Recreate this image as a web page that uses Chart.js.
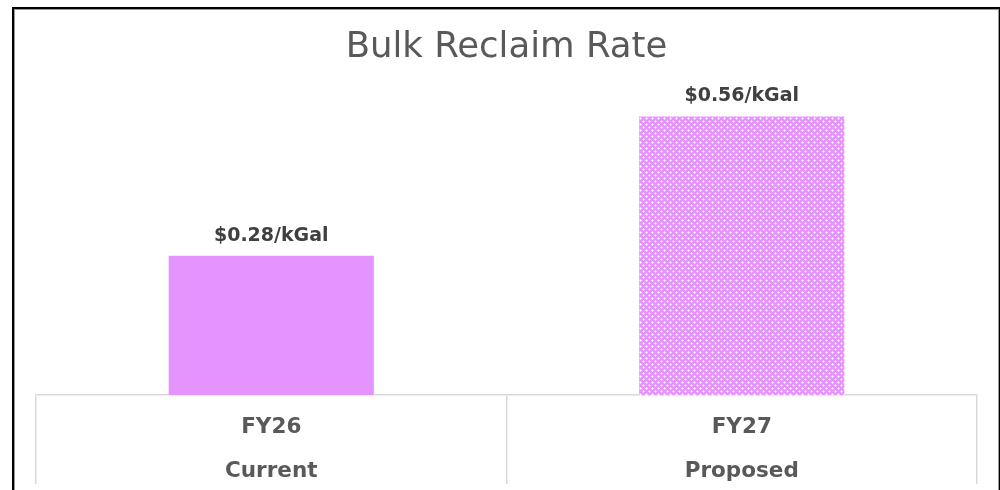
<!DOCTYPE html>
<html>
<head>
<meta charset="utf-8">
<script src="https://cdn.jsdelivr.net/npm/chart.js@4/dist/chart.umd.min.js"></script>
<style>
  html, body { margin: 0; padding: 0; background: #fff; overflow: hidden; }
  #wrap { position: relative; width: 1000px; height: 490px; }
  #frame {
    position: absolute; left: 12px; top: 7px; width: 985px; height: 600px;
    border: 2px solid #000; box-shadow: inset 1px 1px 0 #999, inset -1px 0 0 #999;
    pointer-events: none;
  }
  canvas { position: absolute; left: 0; top: 0; }
</style>
</head>
<body>
<div id="wrap">
  <canvas id="chart" width="1000" height="490"></canvas>
  <div id="frame"></div>
</div>
<script>
// chart data
var years = ['FY26', 'FY27']
var stages = ['Current', 'Proposed']
var rates = [0.28, 0.56]
var rateLabels = ['$0.28/kGal', '$0.56/kGal']

var pink = '#E593FE'

// dotted fill like the spreadsheet "dotted" pattern
function dotPattern(base){
  var c = document.createElement('canvas')
  c.width = 6; c.height = 6
  var g = c.getContext('2d')
  g.fillStyle = base
  g.fillRect(0, 0, 6, 6)
  g.fillStyle = 'rgba(255,255,255,0.55)'
  g.fillRect(0, 1, 3, 1); g.fillRect(1, 0, 1, 3)
  g.fillRect(3, 4, 3, 1); g.fillRect(4, 3, 1, 3)
  g.fillStyle = '#fff'
  g.fillRect(1, 1, 1, 1); g.fillRect(4, 4, 1, 1)
  return g.createPattern(c, 'repeat')
}

var valueLabels = {
  id: 'valueLabels',
  afterDatasetsDraw: function(chart){
    var ctx = chart.ctx
    var meta = chart.getDatasetMeta(0)
    ctx.save()
    ctx.font = 'bold 19px "DejaVu Sans"'
    ctx.fillStyle = '#404040'
    ctx.textAlign = 'center'
    ctx.textBaseline = 'alphabetic'
    meta.data.forEach(function(bar, i){
      ctx.fillText(rateLabels[i], bar.x, bar.y - 15)
    })
    ctx.restore()
  }
}

var labels = years.map(function(y, i){ return [y, stages[i]] })

new Chart(document.getElementById('chart'), {
  type: 'bar',
  data: {
    labels: labels,
    datasets: [{
      data: rates,
      backgroundColor: [pink, dotPattern(pink)],
      borderWidth: 0,
      categoryPercentage: 1,
      barPercentage: 0.436
    }]
  },
  options: {
    responsive: false,
    animation: false,
    layout: { padding: { left: 36, right: 23, top: 26, bottom: 0 } },
    plugins: {
      legend: { display: false },
      tooltip: { enabled: false },
      title: {
        display: true,
        text: 'Bulk Reclaim Rate',
        color: '#595959',
        font: { family: 'DejaVu Sans', size: 35.5, weight: 'normal', lineHeight: 1.2 },
        padding: { top: 0, bottom: 28 }
      }
    },
    scales: {
      y: { display: false, min: 0, max: 0.6 },
      x: {
        offset: true,
        afterFit: function(scale){ scale.height = 95 },
        grid: {
          offset: true,
          drawOnChartArea: false,
          drawTicks: true,
          tickLength: 89,
          color: '#d9d9d9',
          lineWidth: 1.5
        },
        border: { display: true, color: '#d9d9d9', width: 1.5 },
        ticks: {
          color: '#595959',
          padding: -79,
          maxRotation: 0,
          font: { family: 'DejaVu Sans', size: 21.5, weight: 'bold', lineHeight: 2.05 }
        }
      }
    }
  },
  plugins: [valueLabels]
})
</script>
</body>
</html>
